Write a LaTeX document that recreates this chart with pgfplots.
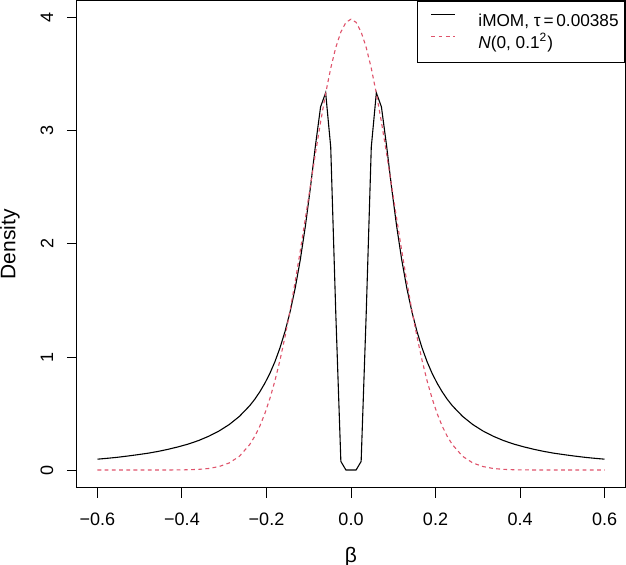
\documentclass[border=0pt]{standalone}
\usepackage{fontspec}
\setmainfont{Liberation Sans}
\usepackage{pgfplots}
\pgfplotsset{compat=1.18}
\definecolor{rred}{HTML}{DF536B}

\begin{document}
\fontsize{9}{11}\selectfont
\begin{tikzpicture}
\begin{axis}[
    scale only axis, width=274pt, height=243.5pt,
    xmin=-0.6485, xmax=0.6485, ymin=-0.159, ymax=4.15,
    axis line style={line width=0.5pt},
    tick style={black, line width=0.5pt},
    tick align=outside, major tick length=5pt,
    xtick pos=bottom, ytick pos=left,
    xtick={-0.6,-0.4,-0.2,0,0.2,0.4,0.6},
    xticklabels={−0.6,−0.4,−0.2,0.0,0.2,0.4,0.6},
    ytick={0,1,2,3,4}, yticklabels={0,1,2,3,4},
    xticklabel style={anchor=center, yshift=-10.5pt},
    yticklabel style={xshift=-10pt, rotate=90, anchor=center},
    xlabel={β}, ylabel={Density},
    label style={font=\fontsize{10.5}{12}\selectfont},
    xlabel style={at={(axis description cs:0.5,-0.1417)}, anchor=center},
    ylabel style={at={(axis description cs:-0.1223,0.5)}, anchor=center},
    legend cell align=left,
    legend style={at={(axis description cs:1,1)}, anchor=north east, draw=black,
        font=\fontsize{8.6}{10}\selectfont,
        inner xsep=0pt, inner ysep=5.25pt, row sep=2pt, column sep=0pt,
        nodes={inner sep=0pt, text height=7.4pt, text depth=1.6pt}},
    legend image code/.code={
        \path[draw=none] (0pt,0pt) rectangle (30.5pt,0pt);
        \draw[#1] (7pt,3.1pt) -- (19pt,3.1pt);},
]
% iMOM prior density, tau = 0.00385
\addplot[black, line width=0.55pt] coordinates {
    (-0.600,0.096)(-0.576,0.104)(-0.552,0.113)(-0.528,0.124)(-0.504,0.136)
    (-0.480,0.149)(-0.456,0.165)(-0.432,0.184)(-0.408,0.206)(-0.384,0.231)
    (-0.360,0.262)(-0.336,0.300)(-0.312,0.346)(-0.288,0.403)(-0.264,0.475)
    (-0.240,0.568)(-0.228,0.625)(-0.216,0.691)(-0.204,0.767)(-0.192,0.855)
    (-0.180,0.959)(-0.168,1.082)(-0.156,1.228)(-0.144,1.402)(-0.132,1.611)
    (-0.120,1.861)(-0.108,2.158)(-0.096,2.501)(-0.084,2.875)(-0.072,3.213)
    (-0.060,3.338)(-0.048,2.857)(-0.036,1.385)(-0.024,0.076)(-0.012,0)
    (0,0)
    (0.012,0)(0.024,0.076)(0.036,1.385)(0.048,2.857)(0.060,3.338)
    (0.072,3.213)(0.084,2.875)(0.096,2.501)(0.108,2.158)(0.120,1.861)
    (0.132,1.611)(0.144,1.402)(0.156,1.228)(0.168,1.082)(0.180,0.959)
    (0.192,0.855)(0.204,0.767)(0.216,0.691)(0.228,0.625)(0.240,0.568)
    (0.264,0.475)(0.288,0.403)(0.312,0.346)(0.336,0.300)(0.360,0.262)
    (0.384,0.231)(0.408,0.206)(0.432,0.184)(0.456,0.165)(0.480,0.149)
    (0.504,0.136)(0.528,0.124)(0.552,0.113)(0.576,0.104)(0.600,0.096)
};
\addlegendentry{iMOM, τ\,=\,0.00385\hspace*{3pt}}
% normal density N(0, 0.1^2)
\addplot[rred, line width=0.55pt, dash pattern=on 1.9pt off 1.7pt] coordinates {
    (-0.600,0)(-0.480,0)(-0.432,0.0004)(-0.408,0.001)(-0.384,0.0025)
    (-0.360,0.006)(-0.336,0.014)(-0.312,0.031)(-0.288,0.063)(-0.264,0.122)
    (-0.240,0.224)(-0.228,0.297)(-0.216,0.387)(-0.204,0.498)(-0.192,0.632)
    (-0.180,0.790)(-0.168,0.973)(-0.156,1.182)(-0.144,1.415)(-0.132,1.669)
    (-0.120,1.942)(-0.108,2.227)(-0.096,2.517)(-0.084,2.804)(-0.072,3.079)
    (-0.060,3.332)(-0.048,3.555)(-0.036,3.739)(-0.024,3.876)(-0.012,3.961)
    (0,3.989)
    (0.012,3.961)(0.024,3.876)(0.036,3.739)(0.048,3.555)(0.060,3.332)
    (0.072,3.079)(0.084,2.804)(0.096,2.517)(0.108,2.227)(0.120,1.942)
    (0.132,1.669)(0.144,1.415)(0.156,1.182)(0.168,0.973)(0.180,0.790)
    (0.192,0.632)(0.204,0.498)(0.216,0.387)(0.228,0.297)(0.240,0.224)
    (0.264,0.122)(0.288,0.063)(0.312,0.031)(0.336,0.014)(0.360,0.006)
    (0.384,0.0025)(0.408,0.001)(0.432,0.0004)(0.480,0)(0.600,0)
};
\addlegendentry{\textit{N}(0, 0.1\textsuperscript{2})}
\end{axis}
\pgfresetboundingbox
\path ([shift={(-38.5pt,-38.5pt)}]current axis.south west)
    rectangle ([shift={(0.5pt,0.5pt)}]current axis.north east);
\end{tikzpicture}
\end{document}
